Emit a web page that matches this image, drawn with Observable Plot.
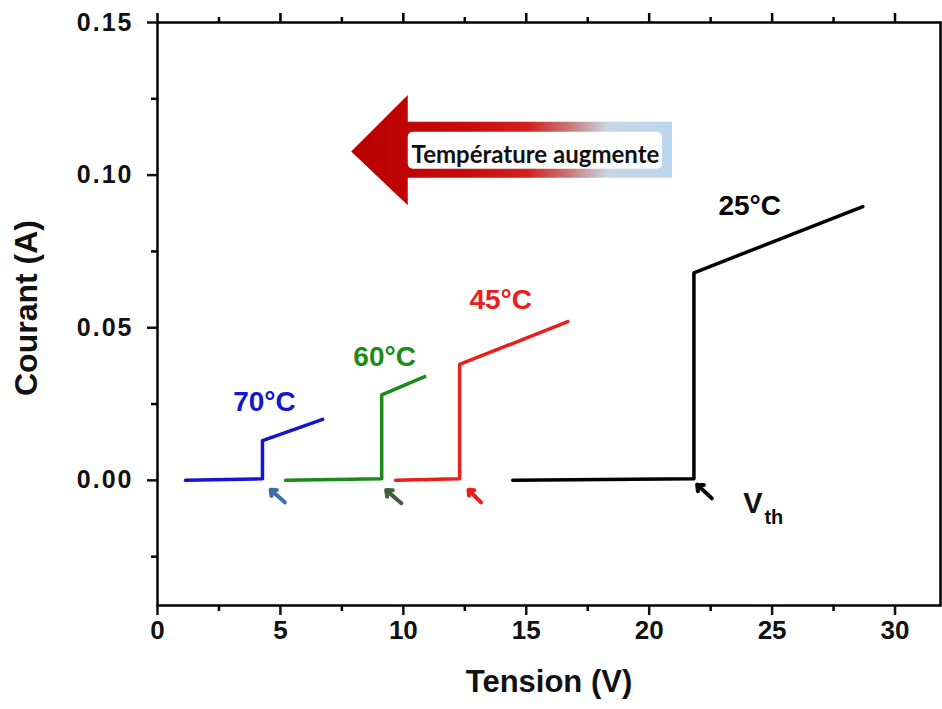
<!DOCTYPE html>
<html><head><meta charset="utf-8">
<script src="https://cdn.jsdelivr.net/npm/d3@7"></script>
<script src="https://cdn.jsdelivr.net/npm/@observablehq/plot@0.6"></script>
<style>
body{margin:0;background:#fff}
g[aria-label="y-axis tick label"] text{letter-spacing:2px}
</style>
</head><body><div id="chart"></div>
<script>
// Series: tension (V) and courant (A)
const series = ["25°C", "45°C", "60°C", "70°C"];
const colors = ["#000000", "#e8201c", "#1a8a1a", "#1515d0"];
const v25 = [14.45, 21.82, 21.82, 28.69];
const i25 = [0.0, 0.0005, 0.068, 0.0897];
const v45 = [9.69, 12.29, 12.29, 16.69];
const i45 = [0.0, 0.0005, 0.038, 0.052];
const v60 = [5.21, 9.12, 9.12, 10.87];
const i60 = [0.0, 0.0005, 0.028, 0.034];
const v70 = [1.14, 4.27, 4.27, 6.72];
const i70 = [0.0, 0.0005, 0.013, 0.020];

// Labels
const labelText = ["25°C", "45°C", "60°C", "70°C"];
const labelV = [24.09, 13.96, 9.24, 4.35];
const labelI = [0.0900, 0.0590, 0.0403, 0.0255];

// Vth annotation
const vthV = [24.22, 25.07];
const vthI = [-0.0075, -0.0121];

// Small arrows pointing to Vth
const arrowColors = ["#000000", "#e8201c", "#3f5f3a", "#3a6ea5"];
const arrowV1 = [22.55, 13.16, 9.92, 5.18];
const arrowI1 = [-0.0059, -0.0072, -0.0075, -0.0072];
const arrowV2 = [21.95, 12.65, 9.3, 4.6];
const arrowI2 = [-0.0014, -0.0031, -0.0032, -0.0031];

// Big arrow annotation
const bigArrowText = "Température augmente";
const bigArrowV = [7.9, 10.2, 20.95];   // tip, head base, tail
const bigArrowI = [0.1076, 0.1261, 0.0900, 0.1173, 0.0990]; // tip, headTop, headBottom, shaftTop, shaftBottom

const xTicks = [0, 5, 10, 15, 20, 25, 30];
const xMinor = [2.5, 7.5, 12.5, 17.5, 22.5, 27.5];
const yTicks = [0, 0.05, 0.10, 0.15];
const yMinor = [-0.025, 0.025, 0.075, 0.125];

const vs = [v25, v45, v60, v70], is = [i25, i45, i60, i70];
const data = series.flatMap((s, k) => vs[k].map((v, j) => ({s, v, i: is[k][j]})));
const labels = labelText.map((t, k) => ({t, v: labelV[k], i: labelI[k], c: colors[k]}));
const arrows = arrowColors.map((c, k) => ({c, x1: arrowV1[k], y1: arrowI1[k], x2: arrowV2[k], y2: arrowI2[k]}));

function bigArrow(index, scales) {
  const {x, y} = scales;
  const g = d3.create("svg:g");
  const defs = g.append("defs");
  const grad = defs.append("linearGradient").attr("id", "tgrad")
    .attr("gradientUnits", "userSpaceOnUse")
    .attr("x1", x(bigArrowV[0])).attr("x2", x(bigArrowV[2])).attr("y1", 0).attr("y2", 0);
  [[0, "#b80000"], [0.35, "#c80a0a"], [0.55, "#d42020"], [0.68, "#c87878"], [0.8, "#c9d6e6"], [1, "#bcd6ee"]]
    .forEach(([o, c]) => grad.append("stop").attr("offset", o).attr("stop-color", c));
  const X0 = x(bigArrowV[0]), X1 = x(bigArrowV[1]), X2 = x(bigArrowV[2]);
  const Yt = y(bigArrowI[0]), Yh1 = y(bigArrowI[1]), Yh2 = y(bigArrowI[2]), Ys1 = y(bigArrowI[3]), Ys2 = y(bigArrowI[4]);
  g.append("path")
    .attr("d", `M${X0},${Yt}L${X1},${Yh1}L${X1},${Ys1}L${X2},${Ys1}L${X2},${Ys2}L${X1},${Ys2}L${X1},${Yh2}Z`)
    .attr("fill", "url(#tgrad)");
  g.append("rect")
    .attr("x", X1).attr("y", Ys1 + 10).attr("width", X2 - X1 - 10).attr("height", Ys2 - Ys1 - 19)
    .attr("rx", 5).attr("fill", "#ffffff");
  return g.node();
}

const font = "'Liberation Sans', Arial, sans-serif";

const chart = Plot.plot({
  width: 942,
  height: 709,
  marginLeft: 157,
  marginTop: 22,
  marginRight: 2,
  marginBottom: 104,
  x: {domain: [0, 31.85]},
  y: {domain: [-0.041, 0.15]},
  color: {domain: series, range: colors},
  style: {background: "#fff"},
  marks: [
    Plot.frame({stroke: "#000", strokeWidth: 2.5}),
    Plot.axisX({ticks: xTicks, tickSize: 10, tickPadding: 5, strokeWidth: 2.5, fontSize: 26, fontWeight: "bold", fontFamily: font, color: "#111", label: null}),
    Plot.axisX({ticks: xMinor, tickSize: 6, strokeWidth: 2.5, text: null, label: null}),
    Plot.axisX({anchor: "top", ticks: xTicks, tickSize: 10, strokeWidth: 2.5, text: null, label: null}),
    Plot.axisX({anchor: "top", ticks: xMinor, tickSize: 6, strokeWidth: 2.5, text: null, label: null}),
    Plot.axisY({ticks: yTicks, tickSize: 10, tickPadding: 14, strokeWidth: 2.5, tickFormat: d3.format(".2f"), fontSize: 25, fontWeight: "bold", fontFamily: font, color: "#111", label: null}),
    Plot.axisY({ticks: yMinor, tickSize: 6, strokeWidth: 2.5, text: null, label: null}),
    Plot.text(["Tension (V)"], {frameAnchor: "bottom", dy: 86, fontSize: 31, fontWeight: "bold", fontFamily: font, fill: "#111"}),
    Plot.text(["Courant (A)"], {frameAnchor: "left", textAnchor: "middle", dx: -131, dy: -6, rotate: -90, fontSize: 32, fontWeight: "bold", fontFamily: font, fill: "#111"}),
    bigArrow,
    Plot.text([bigArrowText], {x: (bigArrowV[1] + bigArrowV[2]) / 2 - 0.2, y: bigArrowI[0] - 0.0012, fontSize: 24, fontWeight: "bold", fontFamily: "Lato, 'Open Sans', sans-serif", fill: "#111"}),
    Plot.line(data, {x: "v", y: "i", z: "s", stroke: "s", strokeWidth: 3.5}),
    Plot.text(labels, {x: "v", y: "i", text: "t", fill: "c", fontSize: 28, fontWeight: "bold", fontFamily: font}),
    Plot.text(["V"], {x: vthV[0], y: vthI[0], fontSize: 29, fontWeight: "bold", fontFamily: font, fill: "#111"}),
    Plot.text(["th"], {x: vthV[1], y: vthI[1], fontSize: 20, fontWeight: "bold", fontFamily: font, fill: "#111"}),
    Plot.arrow(arrows, {x1: "x1", y1: "y1", x2: "x2", y2: "y2", stroke: "c", strokeWidth: 4, headLength: 9, headAngle: 80})
  ]
});
document.getElementById("chart").appendChild(chart);
</script>
</body></html>
